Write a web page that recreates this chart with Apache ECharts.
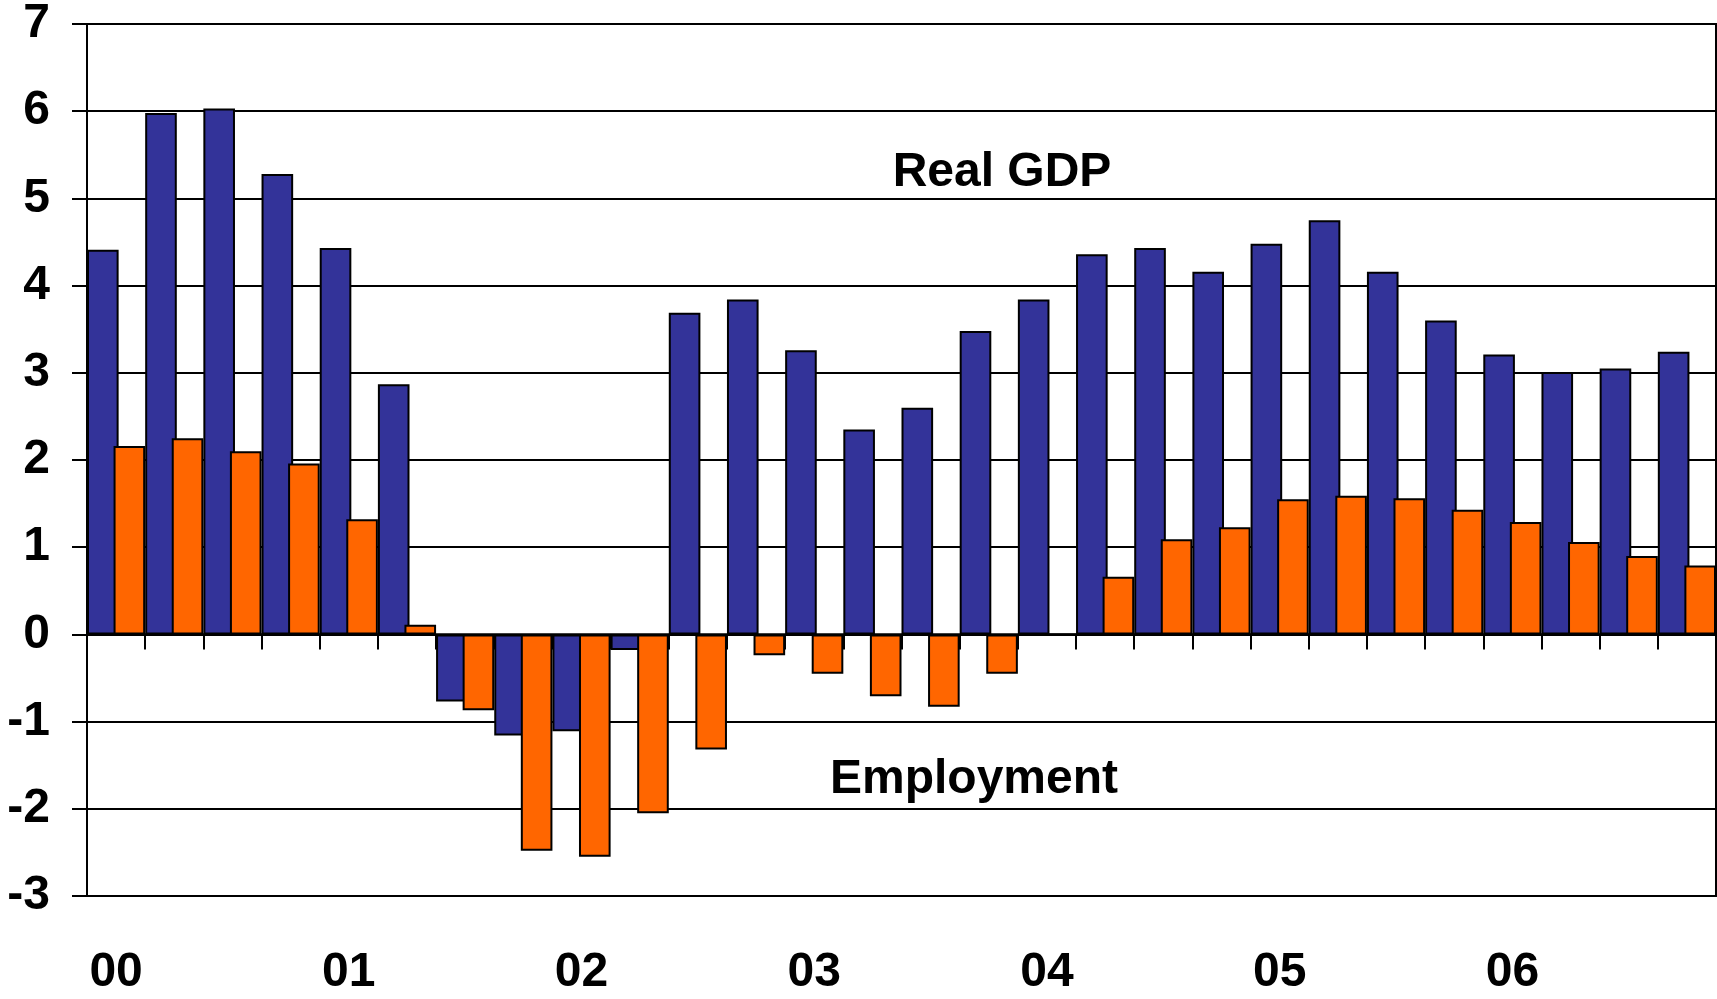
<!DOCTYPE html>
<html>
<head>
<meta charset="utf-8">
<title>Real GDP and Employment</title>
<script src="https://cdn.jsdelivr.net/npm/echarts@6/dist/echarts.min.js"></script>
<style>
  html, body { margin: 0; padding: 0; background: #fff; }
  #chart { width: 1717px; height: 999px; }
</style>
</head>
<body>
<div id="chart"></div>
<script>
// quarters 2000Q1 .. 2006Q4
var quarters = [
  '00Q1', '00Q2', '00Q3', '00Q4', '01Q1', '01Q2', '01Q3', '01Q4',
  '02Q1', '02Q2', '02Q3', '02Q4', '03Q1', '03Q2', '03Q3', '03Q4',
  '04Q1', '04Q2', '04Q3', '04Q4', '05Q1', '05Q2', '05Q3', '05Q4',
  '06Q1', '06Q2', '06Q3', '06Q4'
];
var yearLabels = ['00', '01', '02', '03', '04', '05', '06'];

// Real GDP, %
var gdp = [
  4.41, 5.98, 6.03, 5.28, 4.43, 2.87, -0.77, -1.16,
  -1.11, -0.18, 3.69, 3.84, 3.26, 2.35, 2.6, 3.48,
  3.84, 4.36, 4.43, 4.16, 4.48, 4.75, 4.16, 3.6,
  3.21, 3.01, 3.05, 3.24
];
// Employment, %
var employment = [
  2.16, 2.25, 2.1, 1.96, 1.32, 0.11, -0.87, -2.48,
  -2.55, -2.05, -1.32, -0.24, -0.45, -0.71, -0.83, -0.45,
  0, 0.66, 1.09, 1.23, 1.55, 1.59, 1.56, 1.43,
  1.29, 1.06, 0.9, 0.79
];

var chart = echarts.init(document.getElementById('chart'));

var font = '"Liberation Sans", Arial, sans-serif';

var option = {
  animation: false,
  backgroundColor: '#fff',
  grid: {
    left: 87,
    right: 1,
    top: 20,
    bottom: 103,
    show: true,
    borderColor: '#000',
    borderWidth: 2
  },
  xAxis: [{
    type: 'category',
    data: quarters,
    axisLine: { onZero: true, lineStyle: { color: '#000', width: 2.5 } },
    axisTick: { show: true, interval: 0, length: 15, lineStyle: { color: '#000', width: 2 } },
    axisLabel: { show: false },
    splitLine: { show: false }
  }, {
    type: 'category',
    data: quarters,
    position: 'bottom',
    axisLine: { show: false, onZero: false },
    axisTick: { show: false },
    axisLabel: {
      interval: 3,
      margin: 77,
      verticalAlign: 'middle',
      color: '#000',
      fontFamily: font,
      fontWeight: 'bold',
      fontSize: 48,
      formatter: function (v, i) { return yearLabels[i / 4]; }
    }
  }],
  yAxis: {
    type: 'value',
    min: -3,
    max: 7,
    interval: 1,
    axisLine: { show: true, lineStyle: { color: '#000', width: 2 } },
    axisTick: { show: true, length: 15, lineStyle: { color: '#000', width: 2 } },
    axisLabel: {
      margin: 37,
      color: '#000',
      fontFamily: font,
      fontWeight: 'bold',
      fontSize: 48
    },
    splitLine: { show: true, lineStyle: { color: '#000', width: 2 } }
  },
  series: [{
    name: 'Real GDP',
    type: 'bar',
    data: gdp,
    barCategoryGap: '0%',
    barGap: '-16%',
    itemStyle: { color: '#333399', borderColor: '#000', borderWidth: 2 }
  }, {
    name: 'Employment',
    type: 'bar',
    data: employment,
    barCategoryGap: '0%',
    barGap: '-16%',
    itemStyle: { color: '#ff6600', borderColor: '#000', borderWidth: 2 }
  }],
  // series labels written on the plot
  graphic: [{
    type: 'text',
    x: 1002,
    y: 173,
    z: 10,
    style: {
      text: 'Real GDP',
      align: 'center',
      verticalAlign: 'middle',
      fill: '#000',
      font: 'bold 48px ' + font
    }
  }, {
    type: 'text',
    x: 974,
    y: 780,
    z: 10,
    style: {
      text: 'Employment',
      align: 'center',
      verticalAlign: 'middle',
      fill: '#000',
      font: 'bold 48px ' + font
    }
  }]
};

chart.setOption(option);
</script>
</body>
</html>
